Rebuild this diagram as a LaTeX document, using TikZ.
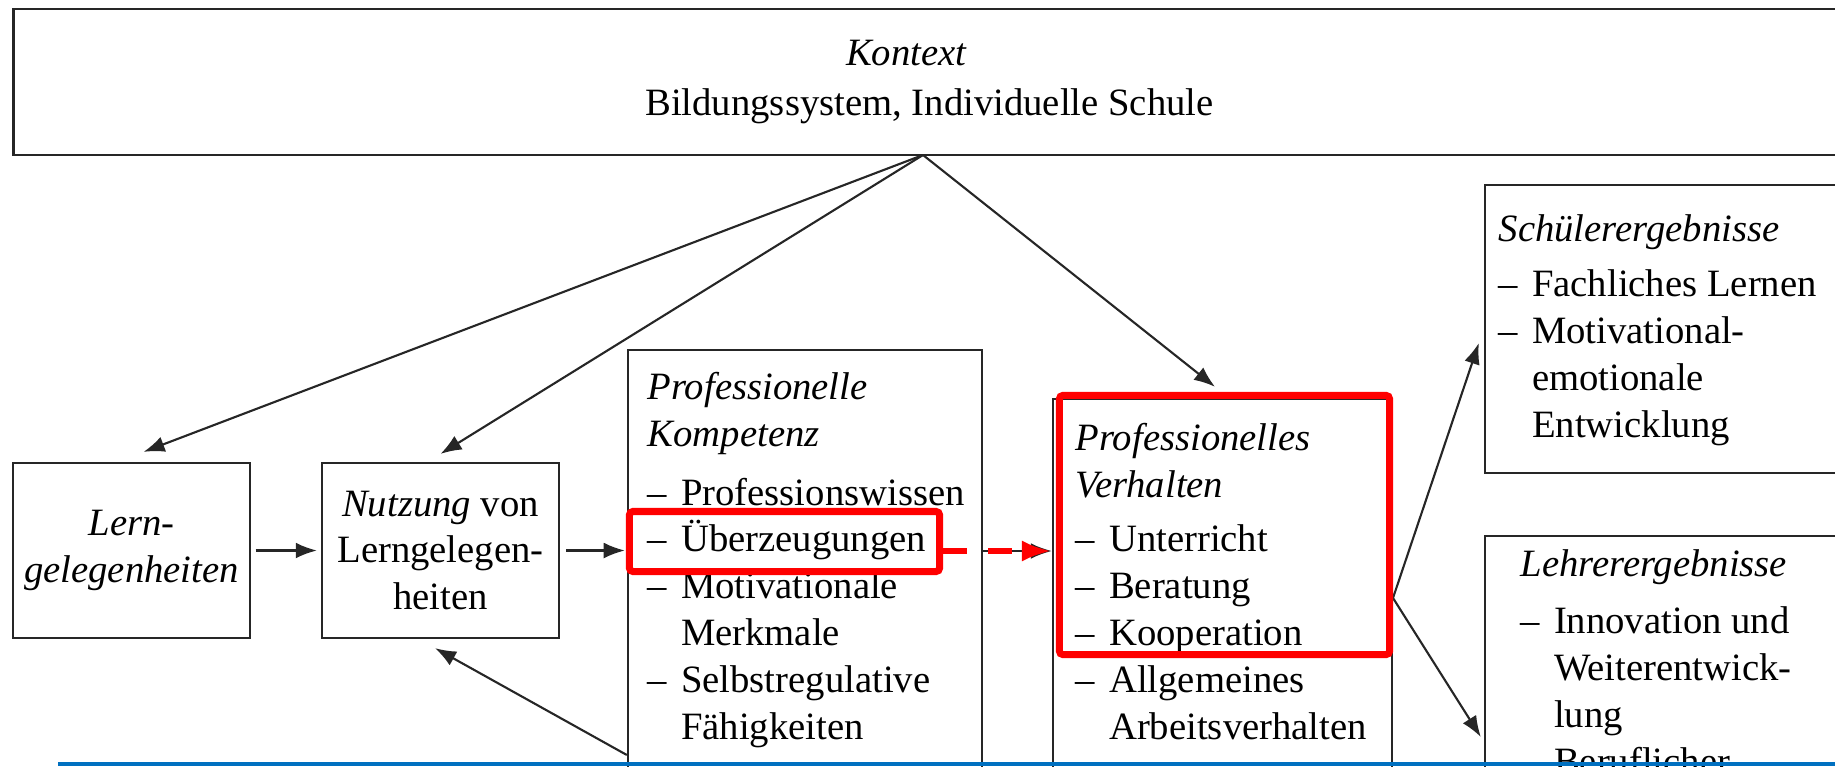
\documentclass[tikz,border=0pt]{standalone}
\usepackage{fontspec}
\setmainfont{Liberation Serif}
\usetikzlibrary{arrows.meta,calc}

\definecolor{markred}{RGB}{255,0,0}
\definecolor{pageblue}{RGB}{0,112,192}

\newcommand{\li}{\makebox[9.5pt][l]{–}}
\newcommand{\lc}{\hspace*{9.5pt}}

\tikzstyle{box} = [draw=black!85, line width=0.6pt, inner sep=0pt, align=center, font=\fontsize{11}{13.3}\selectfont]
\tikzstyle{txt} = [inner sep=0pt, align=left, anchor=base west, font=\fontsize{11}{13.3}\selectfont]
\tikzstyle{arr} = [draw=black!85, line width=0.6pt, -{Latex[length=6pt,width=4.5pt]}]
\tikzstyle{redbox} = [draw=markred, line width=2pt, rounded corners=1pt, inner sep=0pt]
\tikzstyle{redarr} = [draw=markred, line width=1.7pt, dash pattern=on 0.24cm off 0.21cm, -{Latex[length=8.5pt,width=6pt]}]

\begin{document}
\begin{tikzpicture}[x=0.01cm, y=-0.01cm]
	\useasboundingbox (0,0) rectangle (1835,766);
	\clip (0,0) rectangle (1835,766);

	\node[box, minimum width=18.31cm, minimum height=1.46cm] (kontext) at (929.5,82) {\textit{Kontext}\hspace*{13pt}\\[0.9pt]Bildungssystem, Individuelle Schule};
	\node[box, minimum width=2.36cm, minimum height=1.75cm] (lern) at (131.5,550.5) {\textit{Lern-}\\\textit{gelegenheiten}};
	\node[box, minimum width=2.37cm, minimum height=1.75cm] (nutzung) at (440.5,550.5) {\textit{Nutzung} von\\Lerngelegen-\\heiten};
	\node[box, minimum width=3.54cm, minimum height=5.5cm] (pk) at (805,625) {};
	\node[box, minimum width=3.39cm, minimum height=5.01cm] (pv) at (1222.5,649.5) {};
	\node[box, minimum width=3.6cm, minimum height=2.88cm] (schueler) at (1665,329) {};
	\node[box, minimum width=3.6cm, minimum height=3.64cm] (lehrer) at (1665,718) {};

	\node[txt] (pktext) at (647,739) {\textit{Professionelle}\\\textit{Kompetenz}\\[3.4pt]\li Professionswissen\\\li Überzeugungen\\\li Motivationale\\\lc Merkmale\\\li Selbstregulative\\\lc Fähigkeiten};
	\node[txt] (pvtext) at (1075,739) {\textit{Professionelles}\\\textit{Verhalten}\\[2.2pt]\li Unterricht\\\li Beratung\\\li Kooperation\\\li Allgemeines\\\lc Arbeitsverhalten};
	\node[txt] (schuelertext) at (1498,437) {\textit{Schülerergebnisse}\\[2.3pt]\li Fachliches Lernen\\\li Motivational-\\\lc emotionale\\\lc Entwicklung};
	\node[txt] (lehrertext) at (1520,774) {\textit{Lehrerergebnisse}\\[3.1pt]\li Innovation und\\\lc Weiterentwick-\\\lc lung\\\lc Beruflicher};

	\coordinate (apex) at (923,155);
	\coordinate (fork) at (1393,598);
	\coordinate (row) at (0,551);

	\draw[arr] (apex) -- ($(lern.north)+(12,-10)$);
	\draw[arr] (apex) -- ($(nutzung.north)+(0,-8)$);
	\draw[arr] (apex) -- ($(pv.north)+(-7.5,-11)$);
	\draw[arr, shorten <=0.05cm, shorten >=0.04cm] (lern) -- (nutzung);
	\draw[arr, shorten <=0.06cm, shorten >=0.02cm] (nutzung.east) -- (nutzung.east -| pk.west);
	\draw[arr] (pk.east |- row) -- (pv.west |- row);
	\draw[arr] ($(pk.west)+(0,130)$) -- ($(nutzung.south)+(-5.5,9)$);
	\draw[arr] (fork) -- ($(schueler.west)+(-5,14)$);
	\draw[arr] (fork) -- ($(lehrer.west)+(-3,19)$);

	\node[redbox, minimum width=3.1cm, minimum height=0.6cm] (ueber) at (784.5,541.5) {};
	\node[redbox, minimum width=3.3cm, minimum height=2.59cm] (pvmark) at (1224.5,525) {};
	\draw[redarr] (ueber.east |- row) -- (pv.west |- row);

	\fill[pageblue] (58,762) rectangle (1835,766);
\end{tikzpicture}
\end{document}
